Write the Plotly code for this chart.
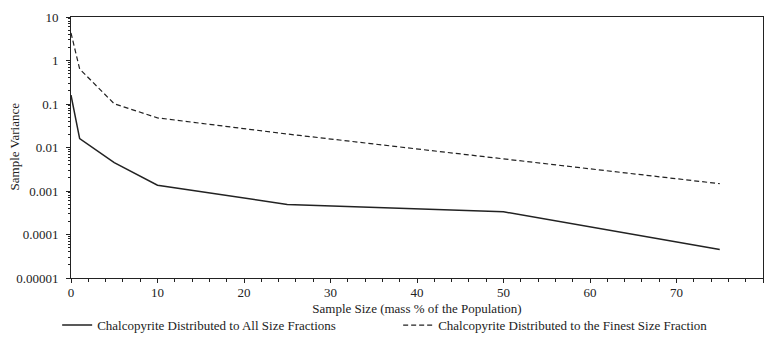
import plotly.graph_objects as go

sample_size_all = [0, 1, 5, 10, 25, 50, 75]
variance_all = [0.16, 0.016, 0.0045, 0.00136, 0.00049, 0.000333, 0.0000452]

sample_size_finest = [0, 1, 5, 10, 25, 50, 75]
variance_finest = [4.3, 0.64, 0.101, 0.048, 0.0204, 0.0055, 0.00147]

y_tickvals = [10, 1, 0.1, 0.01, 0.001, 0.0001, 0.00001]
y_ticktext = ["10", "1", "0.1", "0.01", "0.001", "0.0001", "0.00001"]

name_all = "Chalcopyrite Distributed to All Size Fractions"
name_finest = "Chalcopyrite Distributed to the Finest Size Fraction"
x_title = "Sample Size (mass % of the Population)"
y_title = "Sample Variance"

FONT = "'Liberation Serif', 'Times New Roman', serif"
INK = "#222222"
FS = 13

fig = go.Figure()
fig.add_trace(go.Scatter(x=sample_size_all, y=variance_all, mode="lines", name=name_all,
                         line=dict(color=INK, width=1.5)))
fig.add_trace(go.Scatter(x=sample_size_finest, y=variance_finest, mode="lines", name=name_finest,
                         line=dict(color=INK, width=1.2, dash="5px,3px")))

fig.update_layout(
    width=768, height=360,
    margin=dict(l=71, r=5, t=17, b=82, autoexpand=False),
    paper_bgcolor="white", plot_bgcolor="white",
    font=dict(family=FONT, size=FS, color=INK),
    showlegend=True,
    legend=dict(orientation="h", x=-0.02, xanchor="left", y=-0.123, yanchor="top",
                entrywidth=296, itemwidth=30, font=dict(size=FS, family=FONT),
                bgcolor="rgba(0,0,0,0)", tracegroupgap=0),
    xaxis=dict(range=[0, 80], dtick=10, tick0=0, ticks="outside", ticklen=4, tickwidth=1,
               tickcolor=INK, showline=True, linecolor=INK, linewidth=1, mirror=True,
               showgrid=False, zeroline=False, ticklabelstandoff=-2,
               minor=dict(dtick=2, ticks="outside", ticklen=3, tickcolor=INK, showgrid=False),
               title=dict(text=x_title, standoff=5, font=dict(size=FS, family=FONT)),
               tickfont=dict(size=FS, family=FONT)),
    yaxis=dict(type="log", range=[-5, 1], tickvals=y_tickvals, ticktext=y_ticktext,
               ticks="outside", ticklen=4, tickwidth=1, tickcolor=INK,
               showline=True, linecolor=INK, linewidth=1, mirror=True,
               showgrid=False, zeroline=False, ticklabelstandoff=5,
               minor=dict(dtick="D1", ticks="outside", ticklen=2, tickcolor=INK, showgrid=False),
               tickfont=dict(size=FS, family=FONT)),
    annotations=[dict(text=y_title, textangle=-90, xref="paper", yref="paper",
                      x=-0.0824, y=0.504, xanchor="center", yanchor="middle",
                      showarrow=False, font=dict(size=FS, family=FONT, color=INK))],
)

fig.write_html("out.html")
